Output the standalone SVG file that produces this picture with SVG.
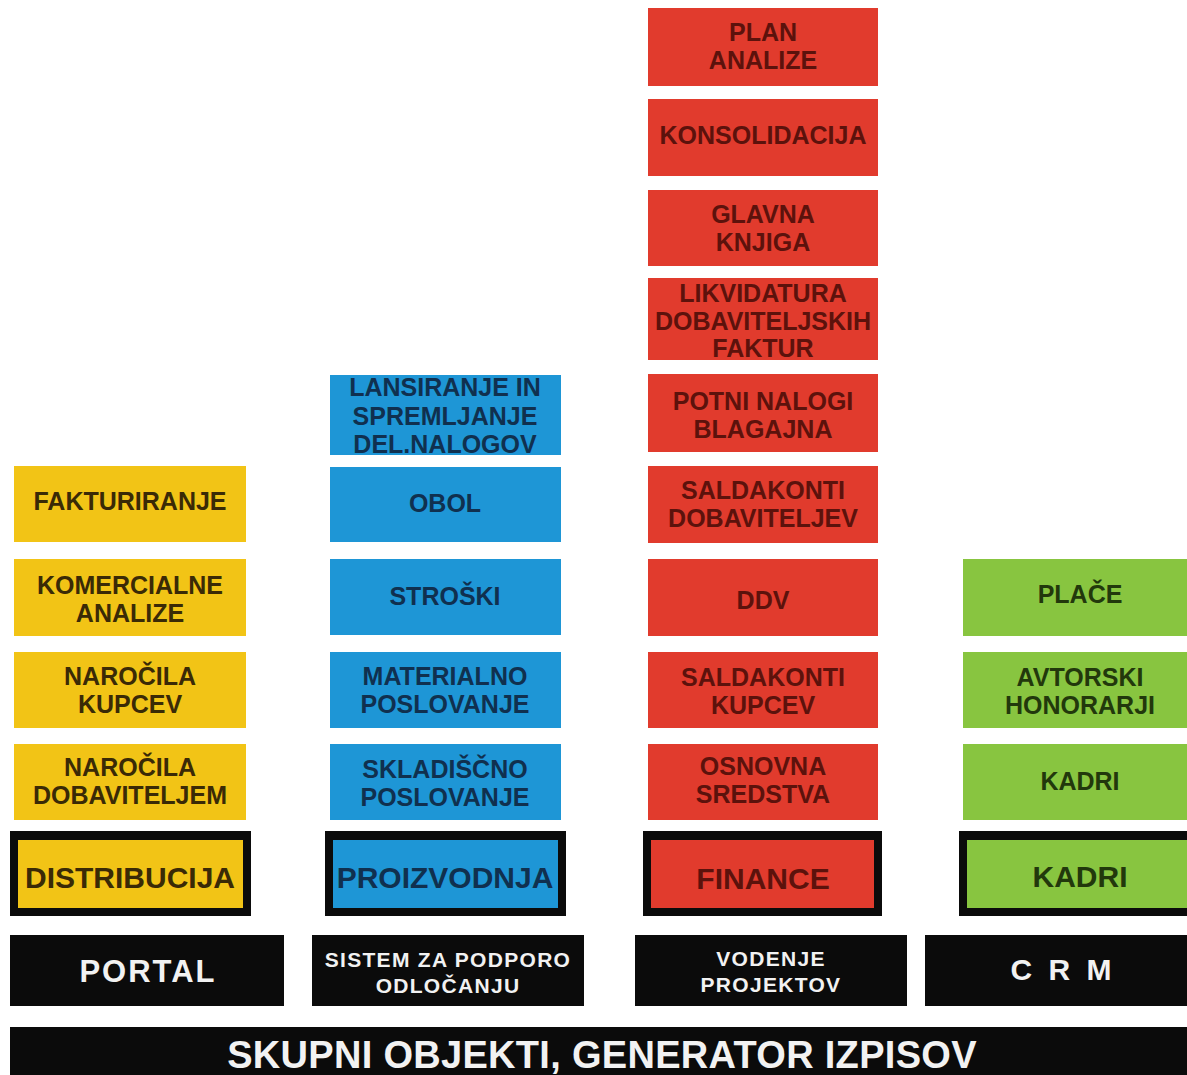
<svg xmlns="http://www.w3.org/2000/svg" width="1187" height="1075" viewBox="0 0 1187 1075">
<style>
text{font-family:"Liberation Sans",Arial,sans-serif;font-weight:bold;text-anchor:middle}
.it{font-size:25px}
.y{fill:#F2C416}.b{fill:#1E96D6}.r{fill:#E13B2D}.g{fill:#88C540}
.ty{fill:#3a2a06}.tb{fill:#10304f}.tr{fill:#5c120c}.tg{fill:#22380c}
.hd{font-size:30px}
.blk{fill:#0b0b0b}
.w{fill:#f2f2f2}
.sm{font-size:21px;letter-spacing:1.3px}
</style>
<rect width="1187" height="1075" fill="#ffffff"/>
<g id="connectors"/>
<!-- Yellow column -->
<g id="fakturiranje"><rect class="y" x="14" y="466" width="232" height="76"/><text class="it ty" x="130" y="510">FAKTURIRANJE</text></g>
<g id="komercialne"><rect class="y" x="14" y="559" width="232" height="77"/><text class="it ty" x="130" y="594">KOMERCIALNE</text><text class="it ty" x="130" y="622">ANALIZE</text></g>
<g id="narocila-kupcev"><rect class="y" x="14" y="652" width="232" height="76"/><text class="it ty" x="130" y="685">NAROČILA</text><text class="it ty" x="130" y="713">KUPCEV</text></g>
<g id="narocila-dob"><rect class="y" x="14" y="744" width="232" height="76"/><text class="it ty" x="130" y="776">NAROČILA</text><text class="it ty" x="130" y="804">DOBAVITELJEM</text></g>
<g id="distribucija"><rect class="blk" x="10" y="831" width="241" height="85"/><rect class="y" x="18" y="840" width="225" height="68"/><text class="hd ty" x="130" y="888">DISTRIBUCIJA</text></g>
<g id="portal"><rect class="blk" x="10" y="935" width="274" height="71"/><text class="w" font-size="31" x="148" y="982" letter-spacing="2">PORTAL</text></g>
<!-- Blue column -->
<g id="lansiranje"><rect class="b" x="330" y="375" width="231" height="80"/><text class="it tb" x="445" y="396">LANSIRANJE IN</text><text class="it tb" x="445" y="425">SPREMLJANJE</text><text class="it tb" x="445" y="453">DEL.NALOGOV</text></g>
<g id="obol"><rect class="b" x="330" y="467" width="231" height="75"/><text class="it tb" x="445" y="512">OBOL</text></g>
<g id="stroski"><rect class="b" x="330" y="559" width="231" height="76"/><text class="it tb" x="445" y="605">STROŠKI</text></g>
<g id="materialno"><rect class="b" x="330" y="652" width="231" height="76"/><text class="it tb" x="445" y="685">MATERIALNO</text><text class="it tb" x="445" y="713">POSLOVANJE</text></g>
<g id="skladiscno"><rect class="b" x="330" y="744" width="231" height="76"/><text class="it tb" x="445" y="778">SKLADIŠČNO</text><text class="it tb" x="445" y="806">POSLOVANJE</text></g>
<g id="proizvodnja"><rect class="blk" x="325" y="831" width="241" height="85"/><rect class="b" x="333" y="840" width="225" height="68"/><text class="hd tb" x="445" y="888">PROIZVODNJA</text></g>
<g id="sistem"><rect class="blk" x="312" y="935" width="272" height="71"/><text class="w sm" x="448" y="967">SISTEM ZA PODPORO</text><text class="w sm" x="448" y="993">ODLOČANJU</text></g>
<!-- Red column -->
<g id="plan-analize"><rect class="r" x="648" y="8" width="230" height="78"/><text class="it tr" x="763" y="41">PLAN</text><text class="it tr" x="763" y="69">ANALIZE</text></g>
<g id="konsolidacija"><rect class="r" x="648" y="99" width="230" height="77"/><text class="it tr" x="763" y="144">KONSOLIDACIJA</text></g>
<g id="glavna-knjiga"><rect class="r" x="648" y="190" width="230" height="76"/><text class="it tr" x="763" y="223">GLAVNA</text><text class="it tr" x="763" y="251">KNJIGA</text></g>
<g id="likvidatura"><rect class="r" x="648" y="278" width="230" height="82"/><text class="it tr" x="763" y="302">LIKVIDATURA</text><text class="it tr" x="763" y="330">DOBAVITELJSKIH</text><text class="it tr" x="763" y="357">FAKTUR</text></g>
<g id="potni-nalogi"><rect class="r" x="648" y="374" width="230" height="78"/><text class="it tr" x="763" y="410">POTNI NALOGI</text><text class="it tr" x="763" y="438">BLAGAJNA</text></g>
<g id="saldakonti-dob"><rect class="r" x="648" y="466" width="230" height="77"/><text class="it tr" x="763" y="499">SALDAKONTI</text><text class="it tr" x="763" y="527">DOBAVITELJEV</text></g>
<g id="ddv"><rect class="r" x="648" y="559" width="230" height="77"/><text class="it tr" x="763" y="609">DDV</text></g>
<g id="saldakonti-kup"><rect class="r" x="648" y="652" width="230" height="76"/><text class="it tr" x="763" y="686">SALDAKONTI</text><text class="it tr" x="763" y="714">KUPCEV</text></g>
<g id="osnovna"><rect class="r" x="648" y="744" width="230" height="76"/><text class="it tr" x="763" y="775">OSNOVNA</text><text class="it tr" x="763" y="803">SREDSTVA</text></g>
<g id="finance"><rect class="blk" x="643" y="831" width="239" height="85"/><rect class="r" x="651" y="840" width="223" height="68"/><text class="hd tr" x="763" y="889">FINANCE</text></g>
<g id="vodenje"><rect class="blk" x="635" y="935" width="272" height="71"/><text class="w sm" x="771" y="966">VODENJE</text><text class="w sm" x="771" y="992">PROJEKTOV</text></g>
<!-- Green column -->
<g id="place"><rect class="g" x="963" y="559" width="224" height="77"/><text class="it tg" x="1080" y="603">PLAČE</text></g>
<g id="avtorski"><rect class="g" x="963" y="652" width="224" height="76"/><text class="it tg" x="1080" y="686">AVTORSKI</text><text class="it tg" x="1080" y="714">HONORARJI</text></g>
<g id="kadri-item"><rect class="g" x="963" y="744" width="224" height="76"/><text class="it tg" x="1080" y="790">KADRI</text></g>
<g id="kadri"><rect class="blk" x="959" y="831" width="228" height="85"/><rect class="g" x="967" y="840" width="220" height="68"/><text class="hd tg" x="1080" y="887">KADRI</text></g>
<g id="crm"><rect class="blk" x="925" y="935" width="262" height="71"/><text class="w" font-size="30" x="1063" y="980" letter-spacing="4">C R M</text></g>
<!-- Bottom bar -->
<g id="skupni"><rect class="blk" x="10" y="1027" width="1177" height="48"/><text class="w" font-size="38" x="602" y="1068" letter-spacing="0.3">SKUPNI OBJEKTI, GENERATOR IZPISOV</text></g>
</svg>
